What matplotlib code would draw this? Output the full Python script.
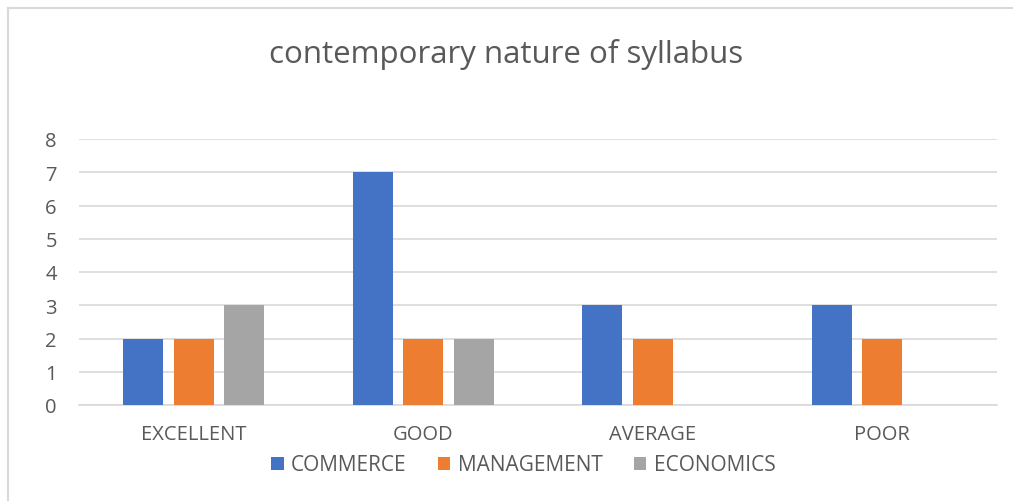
import numpy as np
import matplotlib.pyplot as plt
from matplotlib.lines import Line2D

categories = ['EXCELLENT', 'GOOD', 'AVERAGE', 'POOR']
series_names = ['COMMERCE', 'MANAGEMENT', 'ECONOMICS']
commerce = [2, 7, 3, 3]
management = [2, 2, 2, 2]
economics = [3, 2, 0, 0]
y_ticks = [0, 1, 2, 3, 4, 5, 6, 7, 8]

colors = ['#4472C4', '#ED7D31', '#A5A5A5']
TEXT = '#595959'
GRID = '#D9D9D9'

plt.rcParams['font.family'] = ['Open Sans', 'DejaVu Sans']

fig = plt.figure(figsize=(10.13, 5.02), dpi=100)
ax = fig.add_axes([79 / 1013, 1 - 406 / 502, (997 - 79) / 1013, (406 - 140) / 502])

x = np.arange(len(categories))
width = 0.175
step = 0.22
for i, (vals, name) in enumerate(zip([commerce, management, economics], series_names)):
    ax.bar(x + (i - 1) * step, vals, width, color=colors[i], label=name, zorder=3)

ax.set_xlim(-0.5, len(categories) - 0.5)
ax.set_ylim(0, 8)
ax.set_yticks(y_ticks)
ax.set_xticks(x)
ax.set_xticklabels(categories)
ax.yaxis.grid(True, color=GRID, linewidth=1.2, zorder=0)
for s in ['top', 'right', 'left']:
    ax.spines[s].set_visible(False)
ax.spines['bottom'].set_color(GRID)
ax.spines['bottom'].set_linewidth(1.2)
ax.tick_params(length=0, colors=TEXT, labelsize=14.5)
ax.tick_params(axis='y', pad=16)
ax.tick_params(axis='x', pad=14)

fig.text(0.5, 1 - 55 / 502, 'contemporary nature of syllabus', ha='center', va='center',
         fontsize=22.5, color=TEXT)

ax.legend(loc='center', bbox_to_anchor=(0.484, (406 - 466) / 266), ncol=3, frameon=False,
          fontsize=15, labelcolor=TEXT, handlelength=0.6, handleheight=0.6,
          handletextpad=0.35, columnspacing=1.5)

# outer chart frame (left and top edges visible)
fig.add_artist(Line2D([8 / 1013, 8 / 1013], [0, 1 - 9 / 502], transform=fig.transFigure,
                      color=GRID, linewidth=1.5))
fig.add_artist(Line2D([8 / 1013, 1], [1 - 9 / 502, 1 - 9 / 502], transform=fig.transFigure,
                      color=GRID, linewidth=1.5))

fig.savefig('out.png', dpi=100)
